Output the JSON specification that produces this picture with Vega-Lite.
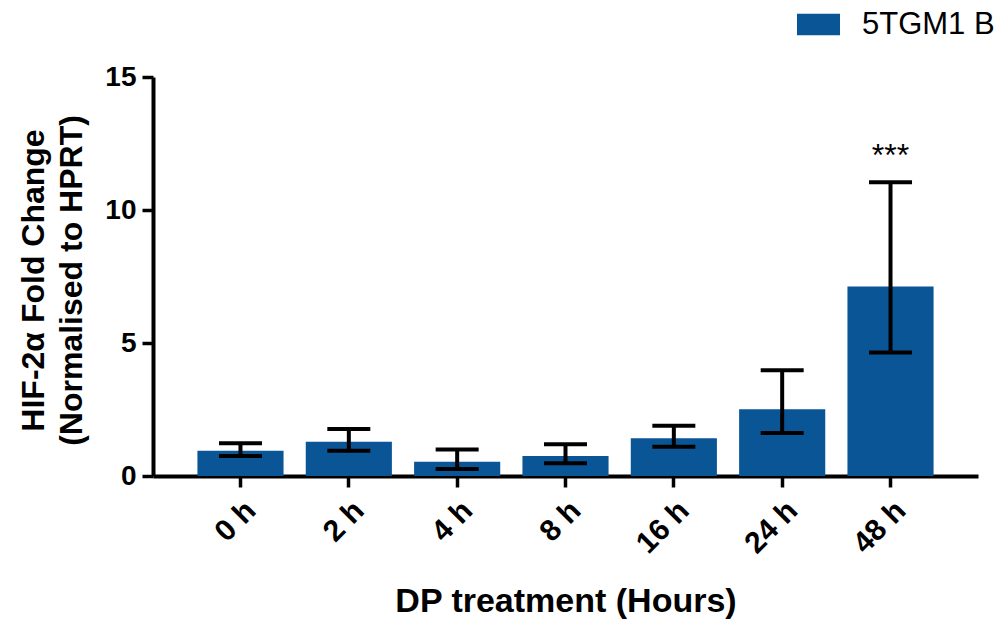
{
  "$schema": "https://vega.github.io/schema/vega-lite/v6.json",
  "width": 825,
  "height": 399,
  "autosize": "none",
  "padding": {"left": 153, "top": 77, "right": 22, "bottom": 147},
  "config": {
    "view": {"stroke": null},
    "font": "Liberation Sans",
    "axis": {
      "domainColor": "black",
      "domainWidth": 4,
      "tickColor": "black",
      "tickWidth": 3.5,
      "tickSize": 11,
      "grid": false,
      "labelColor": "black",
      "labelFont": "Liberation Sans",
      "labelFontWeight": "bold",
      "labelFontSize": 28,
      "titleColor": "black",
      "titleFont": "Liberation Sans",
      "titleFontWeight": "bold",
      "titleFontSize": 33
    }
  },
  "data": {
    "values": [
      {"time": "0 h", "mean": 0.95, "lo": 0.75, "hi": 1.23, "group": "5TGM1 B", "sig": ""},
      {"time": "2 h", "mean": 1.29, "lo": 0.95, "hi": 1.77, "group": "5TGM1 B", "sig": ""},
      {"time": "4 h", "mean": 0.54, "lo": 0.26, "hi": 1.0, "group": "5TGM1 B", "sig": ""},
      {"time": "8 h", "mean": 0.75, "lo": 0.48, "hi": 1.19, "group": "5TGM1 B", "sig": ""},
      {"time": "16 h", "mean": 1.42, "lo": 1.1, "hi": 1.89, "group": "5TGM1 B", "sig": ""},
      {"time": "24 h", "mean": 2.51, "lo": 1.62, "hi": 3.98, "group": "5TGM1 B", "sig": ""},
      {"time": "48 h", "mean": 7.12, "lo": 4.64, "hi": 11.04, "group": "5TGM1 B", "sig": "***"}
    ]
  },
  "encoding": {
    "x": {
      "field": "time",
      "type": "nominal",
      "sort": ["0 h", "2 h", "4 h", "8 h", "16 h", "24 h", "48 h"],
      "scale": {"paddingInner": 0.205, "paddingOuter": 0.41},
      "axis": {
        "labelAngle": -45,
        "labelPadding": 8,
        "labelFontSize": 30,
        "title": "DP treatment (Hours)",
        "titlePadding": 26,
        "titleFontSize": 34
      }
    }
  },
  "layer": [
    {
      "mark": {"type": "bar"},
      "encoding": {
        "y": {
          "field": "mean",
          "type": "quantitative",
          "scale": {"domain": [0, 15], "nice": false},
          "axis": {
            "values": [0, 5, 10, 15],
            "title": ["HIF-2α Fold Change", "(Normalised to HPRT)"],
            "titleFontSize": 32,
            "titlePadding": 16,
            "titleY": 203,
            "labelPadding": 6,
            "titleLineHeight": 38
          }
        },
        "color": {
          "field": "group",
          "type": "nominal",
          "scale": {"range": ["#0A5596"]},
          "legend": {
            "orient": "none",
            "legendX": 644,
            "legendY": -74,
            "title": null,
            "symbolType": "M-1,-0.5H1V0.5H-1Z",
            "symbolSize": 1849,
            "symbolStrokeWidth": 0,
            "symbolOpacity": 1,
            "labelFontSize": 31,
            "labelColor": "black",
            "labelOffset": 22,
            "labelFont": "Liberation Sans"
          }
        }
      }
    },
    {
      "mark": {"type": "rule", "strokeWidth": 4, "color": "black"},
      "encoding": {
        "y": {"field": "lo", "type": "quantitative"},
        "y2": {"field": "hi"}
      }
    },
    {
      "mark": {"type": "tick", "size": 43, "thickness": 4, "color": "black", "opacity": 1},
      "encoding": {"y": {"field": "lo", "type": "quantitative"}}
    },
    {
      "mark": {"type": "tick", "size": 43, "thickness": 4, "color": "black", "opacity": 1},
      "encoding": {"y": {"field": "hi", "type": "quantitative"}}
    },
    {
      "mark": {"type": "text", "fontSize": 32, "dy": -26, "color": "black", "font": "Liberation Sans"},
      "encoding": {
        "y": {"field": "hi", "type": "quantitative"},
        "text": {"field": "sig"}
      }
    }
  ]
}
